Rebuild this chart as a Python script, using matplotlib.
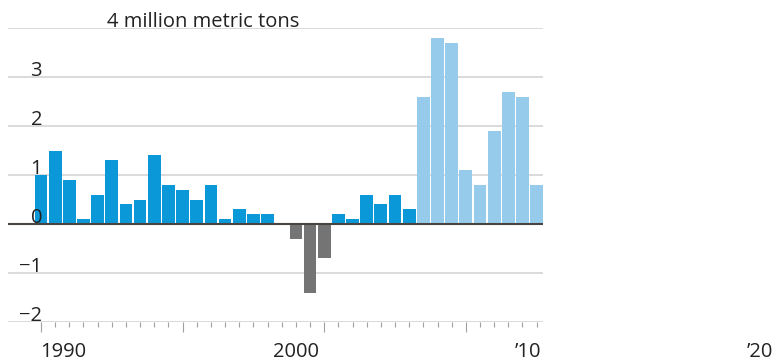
import matplotlib
matplotlib.use("Agg")
import matplotlib.pyplot as plt
import matplotlib.transforms as mtransforms

# Values (million metric tons)
values = [1.0, 1.5, 0.9, 0.1, 0.6, 1.3, 0.4, 0.5, 1.4, 0.8,
          0.7, 0.5, 0.8, 0.1, 0.3, 0.2, 0.2, 0.0, -0.3, -1.4,
          -0.7, 0.2, 0.1, 0.6, 0.4, 0.6, 0.3, 2.6, 3.8, 3.7,
          1.1, 0.8, 1.9, 2.7, 2.6, 0.8]
# which bars are drawn in the light (later) shade
light = [False] * 27 + [True] * 9
y_ticks = [-2, -1, 0, 1, 2, 3, 4]
y_labels = ["\u22122", "\u22121", "0", "1", "2", "3", "4 million metric tons"]
x_labels = ["1990", "2000", "\u201910", "\u201920"]

DARK = "#0b98d8"
LIGHT = "#97cbec"
GRAY = "#747474"

plt.rcParams["font.family"] = ["Open Sans", "DejaVu Sans"]
FS = 14.5

fig = plt.figure(figsize=(7.8, 3.62), dpi=100)
W, H = 780, 362
ax = fig.add_axes([8 / W, (H - 322) / H, (543 - 8) / W, (322 - 28) / H])

x = list(range(len(values)))
colors = []
for v, lt in zip(values, light):
    if v < 0:
        colors.append(GRAY)
    elif lt:
        colors.append(LIGHT)
    else:
        colors.append(DARK)
ax.bar(x, values, width=0.9, color=colors, zorder=2)

ax.set_xlim(-2.33, 35.45)
ax.set_ylim(-2, 4)

for s in ax.spines.values():
    s.set_visible(False)

# gridlines
for t in y_ticks:
    ax.axhline(t, color="#d8d8d8", lw=1.3, zorder=1)
ax.axhline(0, color="#4a4440", lw=1.5, zorder=3)

ax.set_yticks([])
ax.set_xticks([0, 10, 20, 30])
ax.set_xticks(x, minor=True)
ax.set_xticklabels([])
ax.tick_params(axis="x", which="major", length=7, width=0.8, color="#a0a0a0",
               direction="out")
ax.tick_params(axis="x", which="minor", length=3.5, width=0.8, color="#a0a0a0",
               direction="out")

# y labels sitting on top of their gridlines
ytrans = mtransforms.blended_transform_factory(ax.transAxes, ax.transData)
for t, lab in zip(y_ticks, y_labels):
    if t == 4:
        ax.text((107 - 8) / 535, t + 0.025, lab, transform=ytrans, ha="left",
                va="baseline", fontsize=FS, color="#222222", zorder=4)
    else:
        ax.text((42 - 8) / 535, t + 0.025, lab, transform=ytrans, ha="right",
                va="baseline", fontsize=FS, color="#222222", zorder=4)

# year labels
xtrans = mtransforms.blended_transform_factory(ax.transData, ax.transAxes)
label_pos = [1.55, 18.0, 34.4, 50.8]
for p, lab in zip(label_pos, x_labels):
    ax.text(p, -0.119, lab, transform=xtrans, ha="center", va="baseline",
            fontsize=FS, color="#222222", clip_on=False)

fig.savefig("out.png", dpi=100, facecolor="white")
